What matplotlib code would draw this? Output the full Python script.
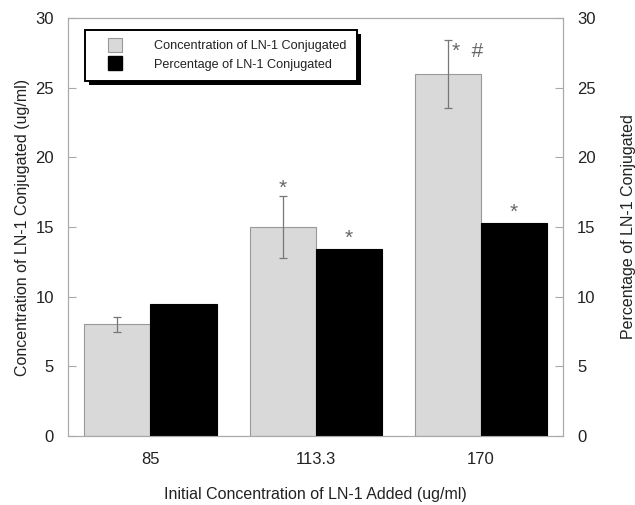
import numpy as np
import matplotlib
matplotlib.use("Agg")
import matplotlib.pyplot as plt
import matplotlib.patheffects as pe
from matplotlib.lines import Line2D

plt.rcParams['font.family'] = ['Liberation Sans', 'DejaVu Sans']

categories = ['85', '113.3', '170']
conc = [8.0, 15.0, 26.0]          # ug/ml, left axis
conc_err = [0.55, 2.2, 2.45]
pct = [9.5, 13.4, 15.3]            # %, right axis
conc_marks = ['', '*', '*  #']
pct_marks = ['', '*', '*']

fig = plt.figure(figsize=(6.35, 5.05), dpi=100)
ax = fig.add_axes([0.107, 0.137, 0.78, 0.827])
ax2 = ax.twinx()

x = np.arange(len(categories))
w = 0.4
spine_col = '#aaaaaa'
txt_col = '#222222'
mark_col = '#666666'
light = '#d9d9d9'

ax.bar(x - w / 2, conc, w, color=light, edgecolor='#999999', linewidth=0.8, zorder=2)
ax.errorbar(x - w / 2, conc, yerr=conc_err, fmt='none', ecolor='#777777',
            elinewidth=0.9, capsize=3, capthick=0.9, zorder=3)
ax2.bar(x + w / 2, pct, w, color='black', edgecolor='black', linewidth=0.8, zorder=2)

for i, m in enumerate(conc_marks):
    if not m:
        continue
    if i == 2:
        ax.text(x[i] - w / 2 + 0.12, conc[i] + 0.9, m, ha='center', va='bottom',
                fontsize=15, color=mark_col)
    else:
        ax.text(x[i] - w / 2, conc[i] + conc_err[i] - 0.1, m, ha='center',
                va='bottom', fontsize=15, color=mark_col)
for i, m in enumerate(pct_marks):
    if m:
        ax2.text(x[i] + w / 2, pct[i] + 0.1, m, ha='center', va='bottom',
                 fontsize=15, color=mark_col)

for a in (ax, ax2):
    a.set_ylim(0, 30)
    a.set_yticks(range(0, 31, 5))
    a.set_xlim(-0.5, 2.5)
    for s in a.spines.values():
        s.set_color(spine_col)
    a.tick_params(axis='y', direction='in', length=6, color=spine_col,
                  labelsize=12, labelcolor=txt_col, pad=10)

ax.set_xticks(x)
ax.set_xticklabels(categories)
ax.tick_params(axis='x', length=0, labelsize=12, labelcolor=txt_col, pad=12)

ax.set_xlabel('Initial Concentration of LN-1 Added (ug/ml)', fontsize=11.5,
              color=txt_col, labelpad=14)
ax.set_ylabel('Concentration of LN-1 Conjugated (ug/ml)', fontsize=11.5,
              color=txt_col, labelpad=4)
ax2.set_ylabel('Percentage of LN-1 Conjugated', fontsize=11.5, color=txt_col,
               labelpad=18)

handles = [
    Line2D([], [], ls='none', marker='s', markersize=10, markerfacecolor=light,
           markeredgecolor='#999999', markeredgewidth=0.8),
    Line2D([], [], ls='none', marker='s', markersize=10, markerfacecolor='black',
           markeredgecolor='black'),
]
labels = ['Concentration of LN-1 Conjugated', 'Percentage of LN-1 Conjugated']
leg = ax2.legend(handles, labels, loc='upper left',
                 bbox_to_anchor=(0.034, 0.85, 0.55, 0.121), mode='expand',
                 fontsize=9.1, frameon=True, fancybox=False, shadow=False,
                 framealpha=1, handlelength=3.2, handletextpad=1.5,
                 borderpad=0.8, labelspacing=0.5, borderaxespad=0)
frame = leg.get_frame()
frame.set_edgecolor('black')
frame.set_facecolor('white')
frame.set_linewidth(1.4)
frame.set_path_effects([pe.SimplePatchShadow(offset=(3, -3), shadow_rgbFace='black', alpha=1),
                        pe.Normal()])
for t in leg.get_texts():
    t.set_color(txt_col)
leg.set_zorder(10)

fig.savefig('out.png', dpi=100)
